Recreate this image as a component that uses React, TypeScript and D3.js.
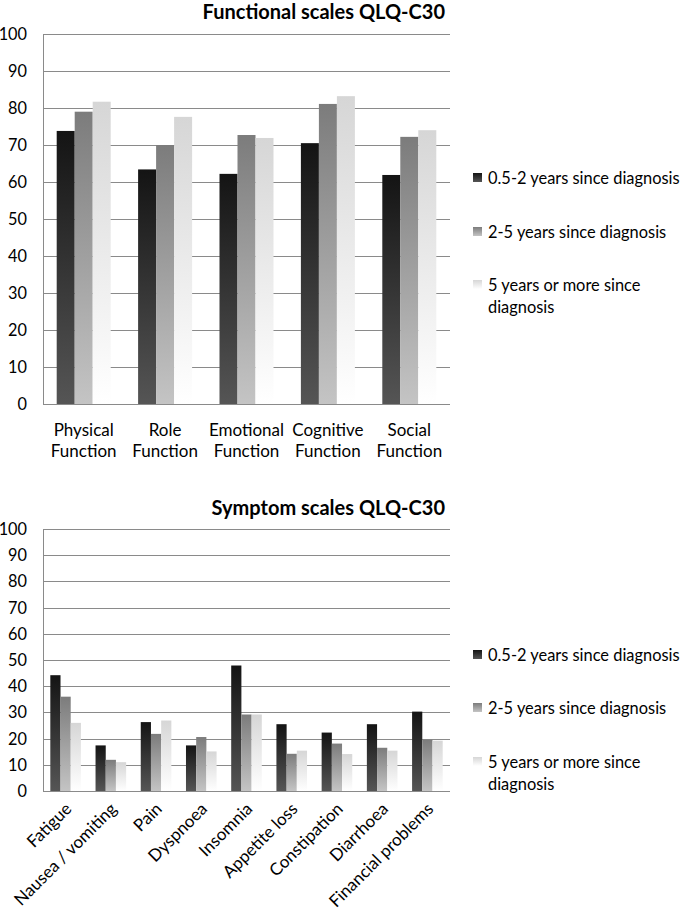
import React from "react";
import * as d3 from "d3";

const seriesNames = [
  "0.5-2 years since diagnosis",
  "2-5 years since diagnosis",
  "5 years or more since diagnosis",
];

const funcCategories = [
  ["Physical", "Function"],
  ["Role", "Function"],
  ["Emotional", "Function"],
  ["Cognitive", "Function"],
  ["Social", "Function"],
];
const funcEarly = [73.8, 63.4, 62.2, 70.5, 61.9];
const funcMid = [79.0, 70.0, 72.7, 81.1, 72.2];
const funcLate = [81.7, 77.6, 71.9, 83.2, 74.0];

const symCategories = [
  "Fatigue",
  "Nausea / vomiting",
  "Pain",
  "Dyspnoea",
  "Insomnia",
  "Appetite loss",
  "Constipation",
  "Diarrhoea",
  "Financial problems",
];
const symEarly = [44.2, 17.4, 26.3, 17.4, 47.9, 25.5, 22.3, 25.5, 30.3];
const symMid = [36.0, 11.9, 21.8, 20.6, 29.2, 14.2, 18.1, 16.5, 19.6];
const symLate = [26.0, 11.0, 26.9, 15.1, 29.2, 15.4, 14.1, 15.4, 19.2];

const yTicks = [0, 10, 20, 30, 40, 50, 60, 70, 80, 90, 100];

const FONT = "Lato, 'Open Sans', sans-serif";
const FS = 17;
const gradStops = [
  ["#141414", "#555555"],
  ["#7c7c7c", "#c4c4c4"],
  ["#d6d6d6", "#ffffff"],
];

type PanelProps = {
  id: string;
  title: string;
  titleY: number;
  top: number;
  bottom: number;
  series: number[][];
  n: number;
  barW: number;
  legendY: number[];
  labels: (x: number, i: number) => React.ReactNode;
};

function Panel(p: PanelProps) {
  const left = 43;
  const right = 450;
  const y = d3.scaleLinear().domain([0, 100]).range([p.bottom, p.top]);
  const x = d3
    .scaleBand<number>()
    .domain(d3.range(p.n))
    .range([left, right]);
  const groupW = p.barW * 3;
  return (
    <g>
      <defs>
        {gradStops.map((s, i) => (
          <linearGradient key={i} id={`${p.id}g${i}`} x1="0" y1="0" x2="0" y2="1">
            <stop offset="0" stopColor={s[0]} />
            <stop offset="1" stopColor={s[1]} />
          </linearGradient>
        ))}
      </defs>
      <text
        x={445}
        y={p.titleY}
        textAnchor="end"
        fontFamily={FONT}
        fontWeight="bold"
        fontSize={20}
        fill="#000"
      >
        {p.title}
      </text>
      {yTicks.map((t) => (
        <g key={t}>
          <line
            x1={left}
            x2={right}
            y1={Math.round(y(t)) + 0.5}
            y2={Math.round(y(t)) + 0.5}
            stroke="#8a8a8a"
            strokeWidth={1}
          />
          <text
            x={27}
            y={y(t) + 6}
            textAnchor="end"
            fontFamily={FONT}
            fontSize={16.3}
            fill="#000"
          >
            {t}
          </text>
        </g>
      ))}
      <line
        x1={left + 0.5}
        x2={left + 0.5}
        y1={y(100)}
        y2={y(0)}
        stroke="#8a8a8a"
      />
      {p.series.map((vals, si) =>
        vals.map((v, i) => {
          const cx = (x(i) as number) + x.bandwidth() / 2;
          const bx = cx - groupW / 2 + si * p.barW;
          return (
            <rect
              key={`${si}-${i}`}
              x={bx}
              y={y(v)}
              width={p.barW}
              height={y(0) - y(v)}
              fill={`url(#${p.id}g${si})`}
            />
          );
        })
      )}
      {d3.range(p.n).map((i) =>
        p.labels((x(i) as number) + x.bandwidth() / 2, i)
      )}
      {seriesNames.map((s, si) => {
        const ly = p.legendY[si];
        const words = si === 2 ? ["5 years or more since", "diagnosis"] : [s];
        return (
          <g key={si}>
            <rect
              x={473}
              y={ly - 5}
              width={9}
              height={9}
              fill={`url(#${p.id}g${si})`}
            />
            {words.map((w, wi) => (
              <text
                key={wi}
                x={488}
                y={ly + 6 + wi * 22}
                fontFamily={FONT}
                fontSize={16.4}
                fill="#000"
              >
                {w}
              </text>
            ))}
          </g>
        );
      })}
    </g>
  );
}

export default function App() {
  return (
    <svg
      width={685}
      height={914}
      style={{ position: "absolute", left: 0, top: 0, background: "#fff" }}
    >
      <Panel
        id="f"
        title="Functional scales QLQ-C30"
        titleY={19}
        top={34}
        bottom={404}
        series={[funcEarly, funcMid, funcLate]}
        n={funcCategories.length}
        barW={18}
        legendY={[178, 232, 285]}
        labels={(cx, i) => (
          <text
            key={`l${i}`}
            textAnchor="middle"
            fontFamily={FONT}
            fontSize={FS}
            fill="#000"
          >
            <tspan x={cx} y={436}>
              {funcCategories[i][0]}
            </tspan>
            <tspan x={cx} y={457}>
              {funcCategories[i][1]}
            </tspan>
          </text>
        )}
      />
      <Panel
        id="s"
        title="Symptom scales QLQ-C30"
        titleY={515}
        top={529}
        bottom={791}
        series={[symEarly, symMid, symLate]}
        n={symCategories.length}
        barW={10.2}
        legendY={[655, 708, 762]}
        labels={(cx, i) => (
          <text
            key={`l${i}`}
            textAnchor="end"
            fontFamily={FONT}
            fontSize={FS}
            fill="#000"
            transform={`translate(${cx + 7},${810}) rotate(-45)`}
          >
            {symCategories[i]}
          </text>
        )}
      />
    </svg>
  );
}
